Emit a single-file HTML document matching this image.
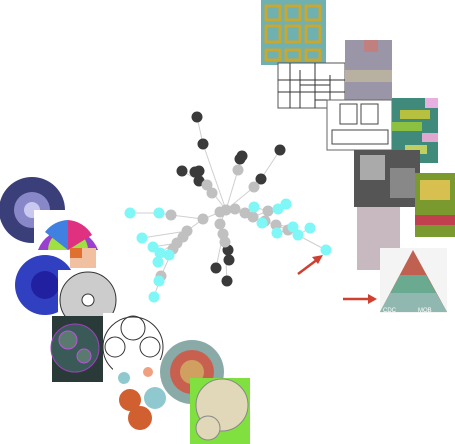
<!DOCTYPE html>
<html><head><meta charset="utf-8"><style>
html,body{margin:0;padding:0;background:#fff}
svg{display:block;font-family:"Liberation Sans",sans-serif}
</style></head><body>
<svg width="455" height="444" viewBox="0 0 455 444">
<g>
<rect x="261" y="0" width="65" height="65" fill="#6fb0b0"/>
<g fill="none" stroke="#c8a830" stroke-width="3">
<rect x="266" y="6" width="14" height="14"/><rect x="286" y="6" width="14" height="14"/><rect x="306" y="6" width="14" height="14"/>
<rect x="266" y="26" width="14" height="16"/><rect x="286" y="26" width="14" height="16"/><rect x="306" y="26" width="14" height="16"/>
<rect x="266" y="50" width="14" height="10"/><rect x="286" y="50" width="14" height="10"/><rect x="306" y="50" width="14" height="10"/></g>
<rect x="278" y="63" width="67" height="45" fill="#fff" stroke="#555"/>
<g stroke="#333" stroke-width="1" fill="none"><path d="M290 63v45M300 70v38M315 63v45M330 75v33M278 80h67M278 92h67M300 85h30M315 100h30"/></g>
<rect x="345" y="40" width="47" height="60" fill="#9a96a8"/>
<rect x="364" y="40" width="14" height="12" fill="#c08080"/>
<rect x="345" y="70" width="47" height="12" fill="#b8b0a0"/>
<rect x="327" y="100" width="65" height="50" fill="#fff" stroke="#666"/>
<g fill="none" stroke="#444"><rect x="340" y="104" width="17" height="20"/><rect x="361" y="104" width="17" height="20"/><rect x="332" y="130" width="56" height="14"/></g>
<rect x="392" y="98" width="46" height="65" fill="#3f8a7a"/>
<rect x="400" y="110" width="30" height="9" fill="#b8c040"/><rect x="392" y="122" width="30" height="9" fill="#8cc040"/><rect x="422" y="133" width="16" height="9" fill="#e0a8d0"/><rect x="405" y="145" width="22" height="9" fill="#c0d060"/><rect x="425" y="98" width="13" height="10" fill="#e8b0e0"/>
<rect x="354" y="150" width="66" height="57" fill="#555"/>
<rect x="360" y="155" width="25" height="25" fill="#aaa"/><rect x="390" y="168" width="25" height="30" fill="#888"/>
<rect x="415" y="173" width="40" height="64" fill="#7a9a30"/>
<rect x="420" y="180" width="30" height="20" fill="#d8c050"/><rect x="415" y="215" width="40" height="10" fill="#c04050"/>
<rect x="357" y="207" width="43" height="63" fill="#c8b8c0"/>
<rect x="380" y="248" width="67" height="65" fill="#f4f4f4"/>
<polygon points="413,250 380,312 447,312" fill="#c06050"/>
<polygon points="400,275 426,275 447,312 380,312" fill="#6aaa90"/>
<polygon points="390,293 436,293 447,312 380,312" fill="#90b8b0"/>
<text x="383" y="312" font-size="6" fill="#fff">CDC</text><text x="418" y="312" font-size="6" fill="#fff">MOB</text>
</g>
<g>
<circle cx="32" cy="210" r="33" fill="#3a3f7a"/>
<circle cx="32" cy="210" r="18" fill="#8888c8"/><circle cx="32" cy="210" r="8" fill="#c8c8f0"/>
<rect x="34" y="210" width="66" height="60" fill="#fff"/>
<path d="M38 250 A32 32 0 0 1 98 250 Z" fill="#9a40d0"/>
<path d="M48 250 A20 20 0 0 1 88 250 Z" fill="#a0e040"/>
<path d="M68 250 L68 220 A30 30 0 0 1 92 235 Z" fill="#e03080"/>
<path d="M68 250 L68 220 A30 30 0 0 0 45 232 Z" fill="#4080e0"/>
<rect x="70" y="248" width="26" height="20" fill="#f0c0a0"/><rect x="70" y="248" width="12" height="10" fill="#e07030"/>
<rect x="12" y="252" width="50" height="66" fill="#fff"/>
<circle cx="45" cy="285" r="30" fill="#3040c0"/>
<circle cx="45" cy="285" r="14" fill="#2020a0"/>
<rect x="58" y="270" width="60" height="46" fill="#fff"/>
<circle cx="88" cy="300" r="28" fill="#ccc" stroke="#333"/>
<circle cx="88" cy="300" r="6" fill="#fff" stroke="#333"/>
<rect x="52" y="316" width="51" height="66" fill="#2a3a38"/>
<circle cx="75" cy="348" r="24" fill="#3a5a58" stroke="#a040c0"/>
<circle cx="68" cy="340" r="9" fill="#5a7a70" stroke="#c050e0"/><circle cx="84" cy="356" r="7" fill="#5a7a70" stroke="#c050e0"/>
<rect x="103" y="313" width="62" height="69" fill="#fff"/>
<g fill="none" stroke="#333"><circle cx="133" cy="347" r="30"/><circle cx="133" cy="328" r="12"/><circle cx="115" cy="347" r="10"/><circle cx="150" cy="347" r="10"/></g>
<rect x="113" y="360" width="65" height="65" fill="#fff"/>
<circle cx="130" cy="400" r="11" fill="#d06030"/><circle cx="155" cy="398" r="11" fill="#90c8d0"/><circle cx="140" cy="418" r="12" fill="#d06030"/><circle cx="124" cy="378" r="6" fill="#90c8d0"/><circle cx="148" cy="372" r="5" fill="#f0a080"/>
<circle cx="192" cy="372" r="32" fill="#8aaaa8"/>
<circle cx="192" cy="372" r="22" fill="#c86050"/><circle cx="192" cy="372" r="12" fill="#d0a060"/>
<rect x="190" y="378" width="60" height="66" fill="#80e040"/>
<circle cx="222" cy="405" r="26" fill="#e0d8b8" stroke="#888"/><circle cx="208" cy="428" r="12" fill="#e0d8b8" stroke="#888"/>
</g>
<g id="graph"></g>
<g>
<line x1="298" y1="274" x2="318" y2="259" stroke="#d04030" stroke-width="2.5"/>
<polygon points="323,255 312,257 318,264" fill="#d04030"/>
<line x1="343" y1="299" x2="370" y2="299" stroke="#d04030" stroke-width="2.5"/>
<polygon points="377,299 368,294 368,304" fill="#d04030"/>
</g>
</svg>
<script>
const nodeX=[226,197,203,242,240,280,261,182,195,199,199,228,229,216,227,238,254,207,212,220,235,203,171,220,223,225,245,253,268,265,276,288,187,183,177,173,161,130,159,142,153,160,169,158,159,154,254,278,286,262,277,293,298,310,326];
const nodeY=[210,117,144,156,159,150,179,171,172,171,181,250,260,268,281,170,187,185,193,212,209,219,215,224,234,242,213,217,211,221,225,230,231,237,243,249,276,213,213,238,247,253,255,262,281,297,207,209,204,223,233,227,235,228,250];
const nodeType=["g","d","d","d","d","d","d","d","d","d","d","d","d","d","d","g","g","g","g","g","g","g","g","g","g","g","g","g","g","g","g","g","g","g","g","g","g","c","c","c","c","c","c","c","c","c","c","c","c","c","c","c","c","c","c"];
const edgeFrom=[0,1,0,15,0,16,0,17,18,0,21,22,37,0,23,24,25,25,24,0,26,27,28,29,30,31,31,53,31,21,32,33,34,35,36,36,34,33,32,29,28,30,6,17];
const edgeTo=[2,2,15,3,16,6,17,7,9,21,22,38,38,23,24,25,11,14,13,26,27,28,47,30,31,54,52,52,50,32,33,34,35,36,44,45,40,41,39,49,46,51,5,8];
const colors={g:"#c0c0c0",d:"#3a3a3a",c:"#7ff7f7"};
const ns="http://www.w3.org/2000/svg";
const g=document.getElementById("graph");
for(let i=0;i<edgeFrom.length;i++){
 const l=document.createElementNS(ns,"line");
 
 
 l.setAttribute("x1",nodeX[edgeFrom[i]]);l.setAttribute("y1",nodeY[edgeFrom[i]]);
 l.setAttribute("x2",nodeX[edgeTo[i]]);l.setAttribute("y2",nodeY[edgeTo[i]]);
 l.setAttribute("stroke","#cfcfcf");l.setAttribute("stroke-width","1");
 g.appendChild(l);
}
for(let i=0;i<nodeX.length;i++){
 const c=document.createElementNS(ns,"circle");
 
 
 c.setAttribute("cx",nodeX[i]);c.setAttribute("cy",nodeY[i]);c.setAttribute("r",5.5);
 c.setAttribute("fill",colors[nodeType[i]]);
 g.appendChild(c);
}
</script>
</body></html>
